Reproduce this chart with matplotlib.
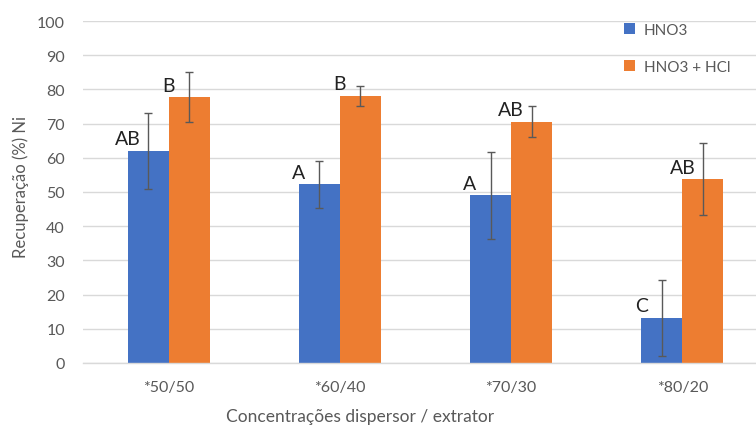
import matplotlib
matplotlib.use("Agg")
import matplotlib.pyplot as plt
import numpy as np

categories = ["*50/50", "*60/40", "*70/30", "*80/20"]
series_names = ["HNO3", "HNO3 + HCl"]
hno3 = [62.0, 52.3, 49.1, 13.2]
hno3_err = [11.1, 6.9, 12.7, 11.1]
hno3_hcl = [77.7, 78.1, 70.6, 53.8]
hno3_hcl_err = [7.3, 3.0, 4.6, 10.4]
hno3_labels = ["AB", "A", "A", "C"]
hno3_hcl_labels = ["B", "B", "AB", "AB"]
yticks = [0, 10, 20, 30, 40, 50, 60, 70, 80, 90, 100]

plt.rcParams['font.family'] = ['Lato', 'DejaVu Sans']
gray = '#595959'

fig = plt.figure(figsize=(7.56, 4.27), dpi=100)
ax = fig.add_axes([83/756, (427-364)/427, (768-83)/756, (364-22)/427])

x = np.arange(len(categories))
w = 0.24
blue = '#4472C4'
orange = '#ED7D31'

ax.bar(x - w/2, hno3, w, color=blue, label=series_names[0], zorder=2)
ax.bar(x + w/2, hno3_hcl, w, color=orange, label=series_names[1], zorder=2)
ekw = dict(fmt='none', ecolor=gray, elinewidth=1.0, capsize=3, capthick=1.0, zorder=3)
ax.errorbar(x - w/2, hno3, yerr=hno3_err, **ekw)
ax.errorbar(x + w/2, hno3_hcl, yerr=hno3_hcl_err, **ekw)

for i in range(len(categories)):
    ax.annotate(hno3_labels[i], (x[i] - w, hno3[i]), xytext=(0, 2.5),
                textcoords='offset points', ha='center', va='bottom',
                fontsize=14, color='#222222', zorder=4)
    ax.annotate(hno3_hcl_labels[i], (x[i], hno3_hcl[i]), xytext=(0, 2.5),
                textcoords='offset points', ha='center', va='bottom',
                fontsize=14, color='#222222', zorder=4)

ax.set_xlim(-0.5, 3.5)
ax.set_ylim(0, 100)
ax.set_yticks(yticks)
ax.set_xticks(x)
ax.set_xticklabels(categories)
ax.yaxis.grid(True, color='#D9D9D9', linewidth=1.0, zorder=0)
ax.set_axisbelow(True)
for s in ['top', 'right', 'left']:
    ax.spines[s].set_visible(False)
ax.spines['bottom'].set_color('#D9D9D9')
ax.spines['bottom'].set_linewidth(1.0)
ax.tick_params(axis='both', length=0, colors=gray, labelsize=11.5)
ax.tick_params(axis='y', pad=13)
ax.tick_params(axis='x', pad=12)

fig.text(21/756, 1 - 187/427, "Recuperação (%) Ni", rotation=90, ha='center', va='center',
         fontsize=12, color=gray)
fig.text((242+478)/2/756, 1 - 417/427, "Concentrações dispersor / extrator", ha='center', va='center',
         fontsize=12.5, color=gray)

leg = ax.legend(loc='upper left', bbox_to_anchor=(624/756, 1 - 24/427), bbox_transform=fig.transFigure,
                frameon=False, fontsize=11, handlelength=0.7, handleheight=0.7, handletextpad=0.6,
                labelspacing=1.5, borderaxespad=0, borderpad=0)
for t in leg.get_texts():
    t.set_color(gray)

fig.savefig("out.png", dpi=100)
